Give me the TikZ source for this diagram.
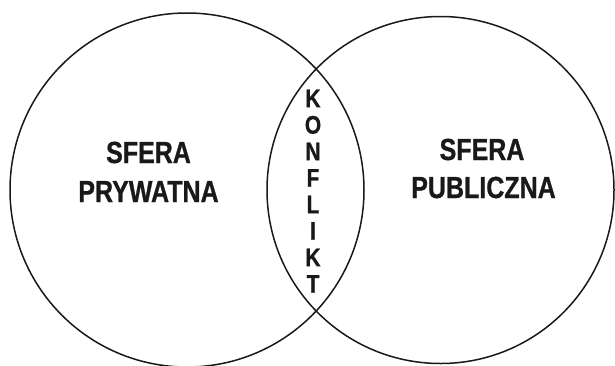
\documentclass[tikz,border=0pt]{standalone}
\usepackage{fontspec}
\setmainfont[FakeStretch=0.82, BoldFeatures={FakeBold=0.8}]{Liberation Sans}
\begin{document}
\begin{tikzpicture}[x=1pt,y=-1pt,
  ring/.style={draw=black!90, line width=1.5pt},
  lbl/.style={font=\fontsize{30.5}{30.5}\selectfont\bfseries, text=black!90, inner sep=0pt, anchor=base},
  konf/.style={font=\fontsize{25.5}{25.5}\selectfont\bfseries, text=black!90, inner sep=0pt, anchor=base}]
\useasboundingbox (0,0) rectangle (615,365);
\node[ring, circle, minimum size=354pt, inner sep=0pt] (left) at (187,190) {};
\node[ring, circle, minimum size=347pt, inner sep=0pt] (right) at (440.5,190) {};
\node[lbl] (l1) at (148.5,163) {SFERA};
\node[lbl] (l2) at (148.5,202) {PRYWATNA};
\node[lbl] (r1) at (482,160) {SFERA};
\node[lbl] (r2) at (483.5,198) {PUBLICZNA};
\foreach \c [count=\i] in {K,O,N,F,L,I,K,T}
  \node[konf] (k\i) at (313,{107.2+26.5*(\i-1)}) {\c};
\end{tikzpicture}
\end{document}
